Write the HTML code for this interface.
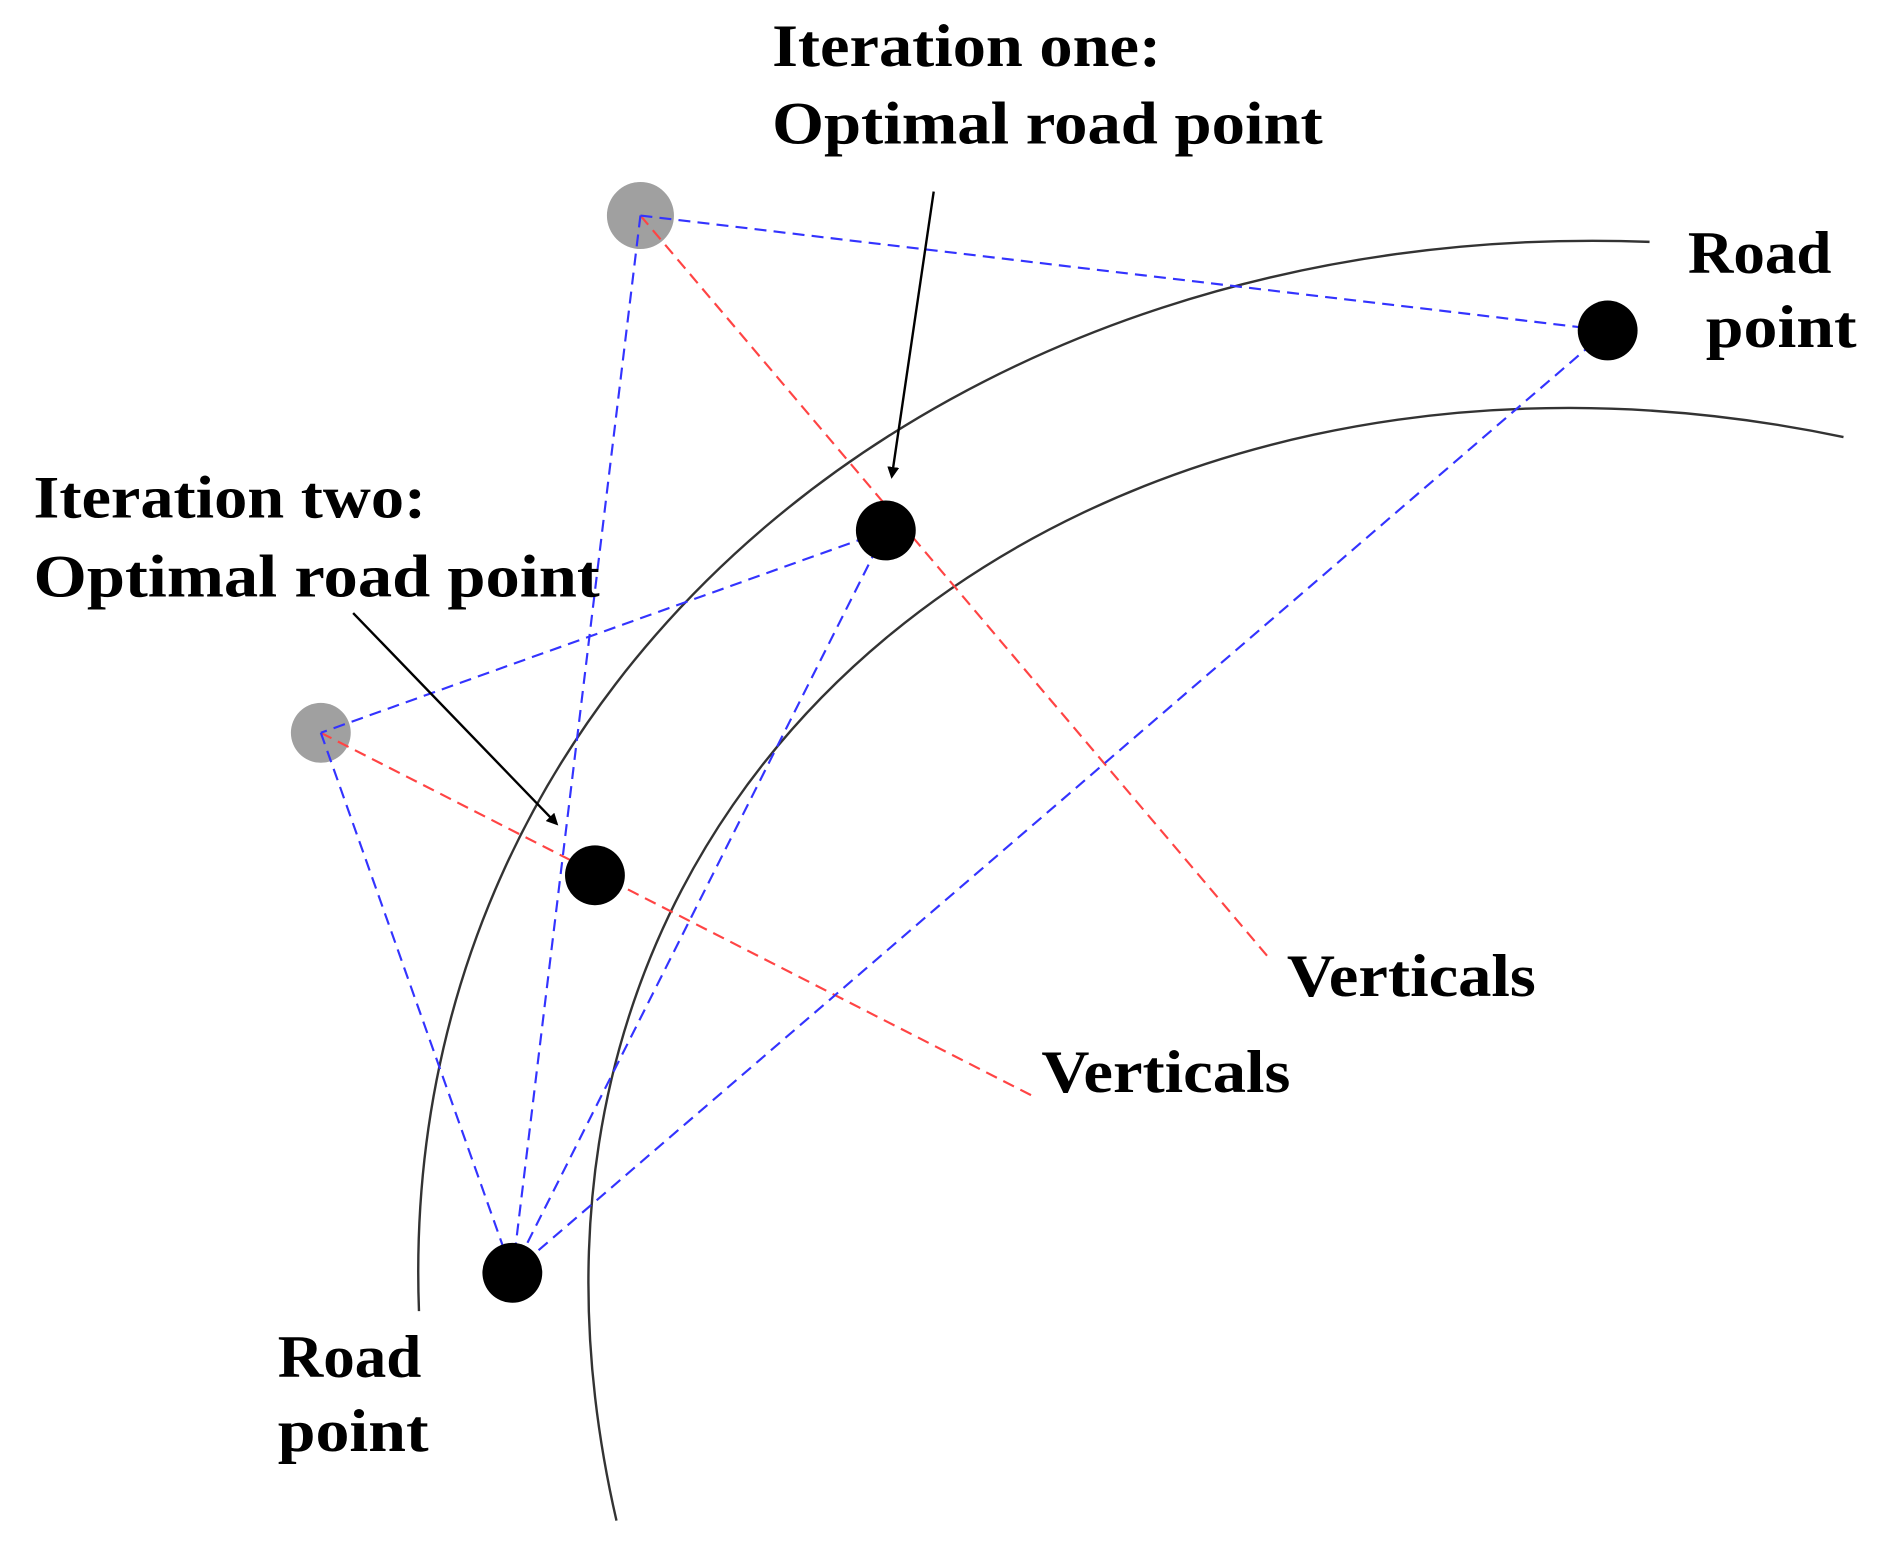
<!DOCTYPE html>
<html><head><meta charset="utf-8"><style>html,body{margin:0;padding:0;background:#fff}svg{display:block}</style></head>
<body>
<svg width="1877" height="1541" viewBox="0 0 1568 1287" preserveAspectRatio="none" xmlns="http://www.w3.org/2000/svg">
<defs>
<marker id="ah" markerWidth="10" markerHeight="10" refX="8" refY="5" orient="auto" markerUnits="userSpaceOnUse"><path d="M0,0 L10,5 L0,10 z" fill="#000"/></marker>
</defs>
<g fill="none" stroke="#333" stroke-width="2">
<path d="M1378,202 C 800,180 330,560 350,1095"/>
<path d="M1540,365 C 920,235 370,640 515,1270"/>
</g>
<circle cx="535" cy="180" r="28" fill="#a0a0a0"/>
<circle cx="268" cy="612" r="25" fill="#a0a0a0"/>
<g stroke="#ff4444" stroke-width="1.8" stroke-dasharray="10,6" fill="none">
<line x1="535" y1="180" x2="1060" y2="800"/>
<line x1="268" y1="612" x2="862" y2="915"/>
</g>
<g stroke="#3333ff" stroke-width="1.8" stroke-dasharray="10,6" fill="none">
<line x1="535" y1="180" x2="1343" y2="276"/>
<line x1="535" y1="180" x2="428" y2="1063"/>
<line x1="1343" y1="276" x2="428" y2="1063"/>
<line x1="740" y1="443" x2="268" y2="612"/>
<line x1="740" y1="443" x2="428" y2="1063"/>
<line x1="268" y1="612" x2="428" y2="1063"/>
</g>
<g fill="#000">
<circle cx="1343" cy="276" r="25"/>
<circle cx="740" cy="443" r="25"/>
<circle cx="497" cy="731" r="25"/>
<circle cx="428" cy="1063" r="25"/>
</g>
<g stroke="#000" stroke-width="2" fill="none">
<line x1="780" y1="160" x2="745" y2="398" marker-end="url(#ah)"/>
<line x1="295" y1="512" x2="465" y2="688" marker-end="url(#ah)"/>
</g>
<g font-family="Liberation Serif, serif" font-size="50" font-weight="bold" fill="#000">
<text x="645" y="55" textLength="325" lengthAdjust="spacingAndGlyphs">Iteration one:</text>
<text x="645" y="120" textLength="460" lengthAdjust="spacingAndGlyphs">Optimal road point</text>
<text x="1410" y="228" textLength="120" lengthAdjust="spacingAndGlyphs">Road</text>
<text x="1425" y="290" textLength="126" lengthAdjust="spacingAndGlyphs">point</text>
<text x="28" y="432" textLength="328" lengthAdjust="spacingAndGlyphs">Iteration two:</text>
<text x="28" y="498" textLength="473" lengthAdjust="spacingAndGlyphs">Optimal road  point</text>
<text x="1075" y="832" textLength="208" lengthAdjust="spacingAndGlyphs">Verticals</text>
<text x="870" y="912" textLength="208" lengthAdjust="spacingAndGlyphs">Verticals</text>
<text x="232" y="1150" textLength="120" lengthAdjust="spacingAndGlyphs">Road</text>
<text x="232" y="1212" textLength="126" lengthAdjust="spacingAndGlyphs">point</text>
</g>
</svg>
</body></html>
